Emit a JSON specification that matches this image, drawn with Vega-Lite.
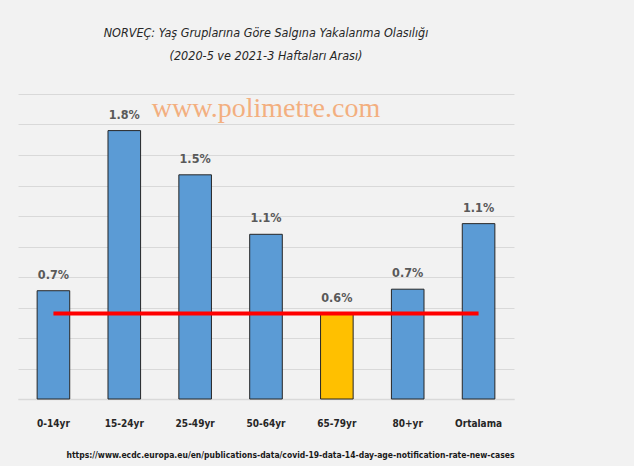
{
  "$schema": "https://vega.github.io/schema/vega-lite/v6.json",
  "autosize": {"type": "none"},
  "width": 496,
  "height": 305,
  "padding": {"left": 18, "top": 94, "right": 120, "bottom": 67},
  "background": "#f2f2f2",
  "title": {
    "text": ["NORVEÇ: Yaş Gruplarına Göre Salgına Yakalanma Olasılığı", "(2020-5 ve 2021-3 Haftaları Arası)"],
    "font": "DejaVu Sans Condensed, sans-serif",
    "fontStyle": "italic",
    "fontWeight": "normal",
    "fontSize": 12.5,
    "lineHeight": 23,
    "color": "#262626",
    "anchor": "middle",
    "offset": 32
  },
  "datasets": {
    "bars": [
      {"group": "0-14yr", "value": 0.71, "label": "0.7%", "kind": "normal"},
      {"group": "15-24yr", "value": 1.76, "label": "1.8%", "kind": "normal"},
      {"group": "25-49yr", "value": 1.47, "label": "1.5%", "kind": "normal"},
      {"group": "50-64yr", "value": 1.08, "label": "1.1%", "kind": "normal"},
      {"group": "65-79yr", "value": 0.56, "label": "0.6%", "kind": "highlight"},
      {"group": "80+yr", "value": 0.72, "label": "0.7%", "kind": "normal"},
      {"group": "Ortalama", "value": 1.15, "label": "1.1%", "kind": "normal"}
    ],
    "line": [
      {"start": "0-14yr", "end": "Ortalama", "value": 0.56}
    ],
    "mark": [
      {"group": "50-64yr", "value": 1.9, "text": "www.polimetre.com"}
    ]
  },
  "layer": [
    {
      "data": {"name": "bars"},
      "mark": {"type": "bar", "stroke": "#262626", "strokeWidth": 1},
      "encoding": {
        "x": {
          "field": "group", "type": "nominal", "sort": null,
          "scale": {"paddingInner": 0.54, "paddingOuter": 0.27},
          "axis": {
            "title": "https://www.ecdc.europa.eu/en/publications-data/covid-19-data-14-day-age-notification-rate-new-cases",
            "titleFont": "DejaVu Sans Condensed, sans-serif",
            "titleFontSize": 8.5,
            "titleFontWeight": "bold",
            "titleColor": "#1a1a1a",
            "titleAnchor": "end",
            "titlePadding": 22,
            "labelAngle": 0,
            "labelFont": "DejaVu Sans Condensed, sans-serif",
            "labelFontSize": 10,
            "labelFontWeight": "bold",
            "labelColor": "#262626",
            "labelPadding": 19,
            "ticks": false,
            "domainColor": "#d9d9d9",
            "domainWidth": 1.5
          }
        },
        "y": {
          "field": "value", "type": "quantitative",
          "scale": {"domain": [0, 2.0], "nice": false},
          "axis": {
            "title": null, "labels": false, "ticks": false, "domain": false,
            "values": [0, 0.2, 0.4, 0.6, 0.8, 1.0, 1.2, 1.4, 1.6, 1.8, 2.0],
            "tickCount": 20,
            "gridColor": "#d9d9d9", "gridWidth": 1.2
          }
        },
        "color": {
          "field": "kind", "type": "nominal",
          "scale": {"domain": ["normal", "highlight"], "range": ["#5b9bd5", "#ffc000"]},
          "legend": null
        }
      }
    },
    {
      "data": {"name": "bars"},
      "mark": {
        "type": "text", "baseline": "alphabetic", "dy": -12,
        "font": "DejaVu Sans Condensed, sans-serif",
        "fontSize": 12.5, "fontWeight": "bold", "color": "#595959"
      },
      "encoding": {
        "x": {"field": "group", "type": "nominal", "sort": null},
        "y": {"field": "value", "type": "quantitative"},
        "text": {"field": "label"}
      }
    },
    {
      "data": {"name": "line"},
      "mark": {"type": "rule", "color": "#ff0000", "strokeWidth": 4},
      "encoding": {
        "x": {"field": "start", "type": "nominal", "sort": null, "bandPosition": 0.5},
        "x2": {"field": "end"},
        "y": {"field": "value", "type": "quantitative"}
      }
    },
    {
      "data": {"name": "mark"},
      "mark": {
        "type": "text", "baseline": "middle",
        "font": "Liberation Serif, serif",
        "fontSize": 28, "color": "#f4a46c", "opacity": 0.85
      },
      "encoding": {
        "x": {"field": "group", "type": "nominal", "sort": null},
        "y": {"field": "value", "type": "quantitative"},
        "text": {"field": "text"}
      }
    }
  ],
  "config": {
    "view": {"stroke": null}
  }
}
